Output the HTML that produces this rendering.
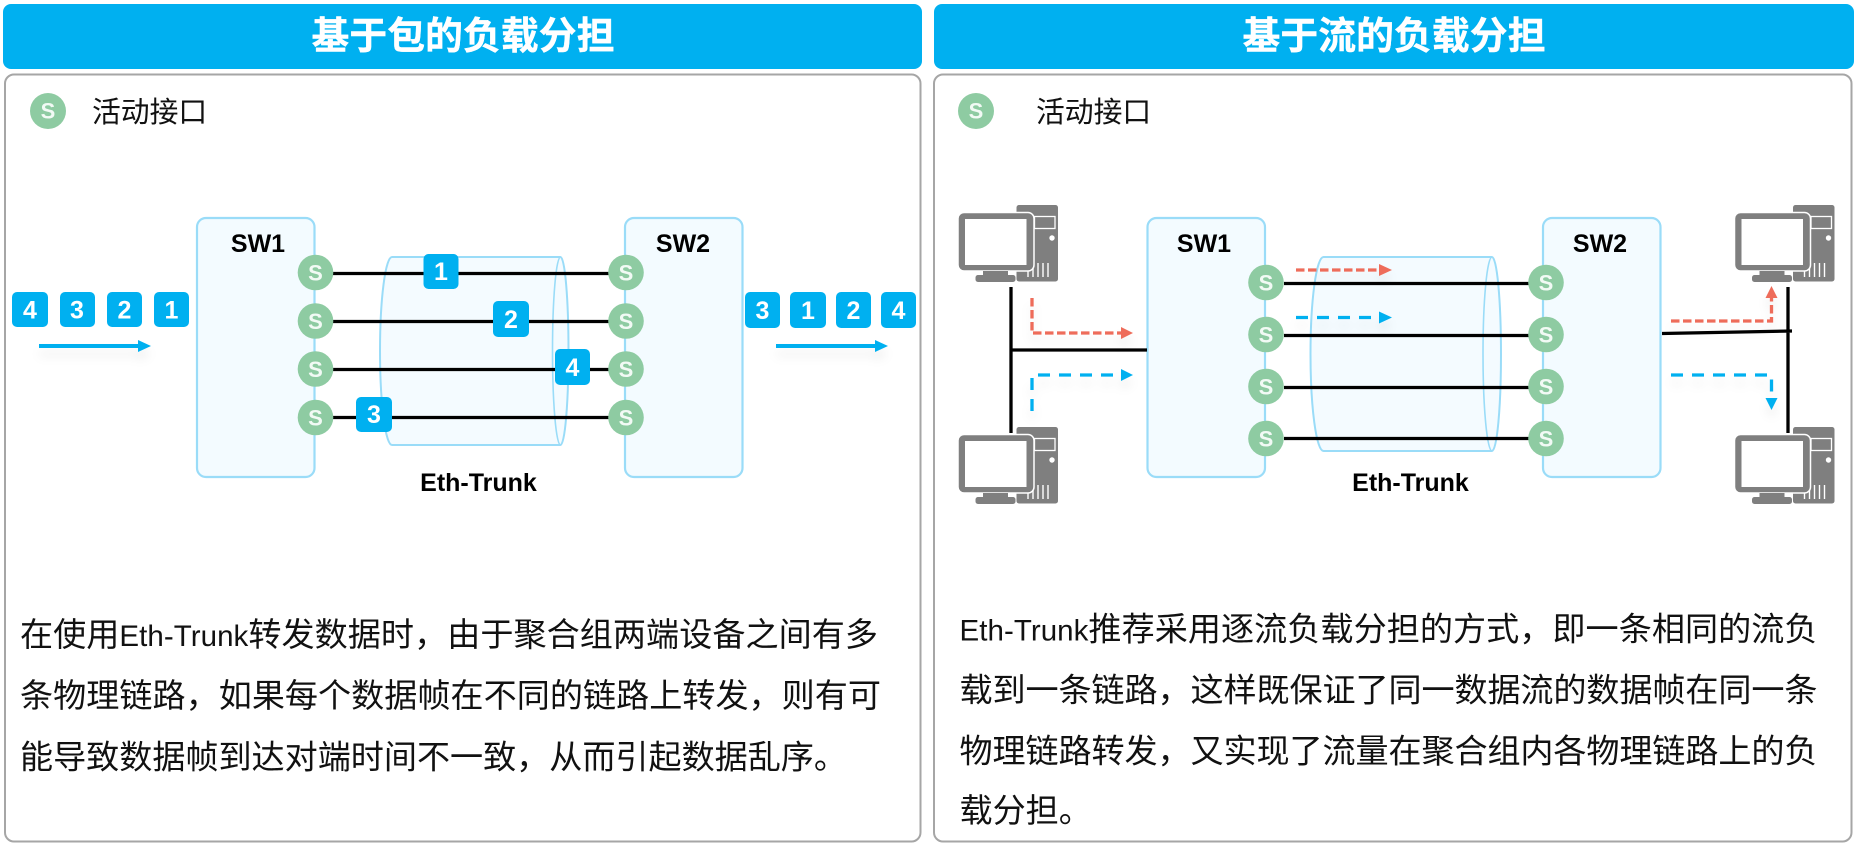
<!DOCTYPE html>
<html><head><meta charset="utf-8">
<style>
html,body{margin:0;padding:0;background:#fff;width:1855px;height:847px;overflow:hidden}
svg{display:block}
text{font-family:"Liberation Sans","Noto Sans CJK SC",sans-serif}
.t{font-size:37.8px;font-weight:700;fill:#fff;text-anchor:middle}
.lg{font-size:28.8px;fill:#111}
.b{font-size:33.1px;fill:#111}
.b tspan{font-size:29.5px}
.sw{font-size:25px;font-weight:700;fill:#000;text-anchor:middle}
.s{font-size:22px;font-weight:700;fill:#f2faf5;text-anchor:middle}
.n{font-size:25px;font-weight:700;fill:#fff;text-anchor:middle}
.box{fill:#f3fbff;stroke:#9adcf8;stroke-width:2.2}
.cyl{fill:#f3fbff;fill-opacity:.9;stroke:#9adcf8;stroke-width:2}
.e{fill:none;stroke:#9adcf8;stroke-width:1.6}
.k{stroke:#000;stroke-width:3.3;fill:none}
.c{fill:#8ecba2}
.p{fill:#00b0f0}
.rd{fill:none;stroke:#ee6c5a;stroke-width:3.3;stroke-dasharray:8.500 3.500}
.bd{fill:none;stroke:#00b0f0;stroke-width:3.3;stroke-dasharray:12 9}
.sh{filter:drop-shadow(0 8px 5px rgba(0,0,0,.07))}
</style></head><body>
<svg width="1855" height="847" viewBox="0 0 1855 847" xmlns="http://www.w3.org/2000/svg">
<defs>
<g id="pc">
 <rect x="1016.500" y="205" width="41.500" height="76.500" rx="2.500" fill="#7f7f7f"/>
 <rect x="1034.500" y="216.500" width="20.500" height="12" fill="none" stroke="#fff" stroke-width="1.300"/>
 <circle cx="1052" cy="238" r="2.700" fill="#fff"/>
 <path d="M1028 263v14M1033 263v14M1038 263v14M1043 263v14M1048 263v14" stroke="#fff" stroke-width="1.400"/>
 <rect x="958" y="212.500" width="76" height="58.500" rx="6" fill="#7f7f7f" stroke="#fff" stroke-width="1.500"/>
 <rect x="965" y="219" width="61.500" height="46" fill="#fff"/>
 <rect x="983" y="271" width="25" height="4.500" fill="#7f7f7f"/>
 <rect x="975.500" y="275" width="40" height="7" rx="2.500" fill="#7f7f7f"/>
</g>
</defs>

<rect x="3" y="4" width="919" height="65" rx="8" class="p"/>
<rect x="934" y="4" width="920" height="65" rx="8" class="p"/>
<rect x="5" y="74.500" width="915.500" height="767" rx="9" fill="#fff" stroke="#a6a6a6" stroke-width="2"/>
<rect x="934" y="74.500" width="917.500" height="767" rx="9" fill="#fff" stroke="#a6a6a6" stroke-width="2"/>
<text class="t" x="463" y="49" textLength="303" stroke="#fff" stroke-width=".4">基于包的负载分担</text>
<text class="t" x="1394" y="49" textLength="303" stroke="#fff" stroke-width=".4">基于流的负载分担</text>

<!-- legends -->
<circle class="c" cx="48" cy="111" r="18"/><text class="s" x="48" y="118.500">S</text>
<text class="lg" x="92" y="122">活动接口</text>
<circle class="c" cx="976" cy="111" r="18"/><text class="s" x="976" y="118.500">S</text>
<text class="lg" x="1036" y="122">活动接口</text>

<!-- LEFT DIAGRAM -->
<rect class="box" x="197" y="218" width="117.500" height="259" rx="9"/>
<rect class="box" x="625" y="218" width="117.500" height="259" rx="9"/>
<text class="sw" x="258" y="252">SW1</text>
<text class="sw" x="683" y="252">SW2</text>
<path class="cyl" d="M392 257H560.500A8 94 0 0 1 560.500 445H392A12 94 0 0 1 392 257Z"/>
<path class="e" d="M560.500 257A8 94 0 0 0 560.500 445"/>
<path class="k" d="M332 273.500H612M332 321.500H612M332 369.500H612M332 417.500H612"/>
<g class="c">
<circle cx="315.500" cy="272.500" r="17.800"/><circle cx="315.500" cy="321" r="17.800"/><circle cx="315.500" cy="369" r="17.800"/><circle cx="315.500" cy="417.500" r="17.800"/>
<circle cx="626" cy="272.500" r="17.800"/><circle cx="626" cy="321" r="17.800"/><circle cx="626" cy="369" r="17.800"/><circle cx="626" cy="417.500" r="17.800"/>
</g>
<text class="s" x="315.500" y="280.500">S</text><text class="s" x="315.500" y="329">S</text><text class="s" x="315.500" y="377">S</text><text class="s" x="315.500" y="425.500">S</text>
<text class="s" x="626" y="280.500">S</text><text class="s" x="626" y="329">S</text><text class="s" x="626" y="377">S</text><text class="s" x="626" y="425.500">S</text>

<rect class="p" x="423.500" y="254" width="35" height="35" rx="5"/><text class="n" x="441" y="280">1</text>
<rect class="p" x="493" y="301" width="36" height="36" rx="5"/><text class="n" x="511" y="328">2</text>
<rect class="p" x="555" y="349" width="35" height="36" rx="5"/><text class="n" x="572.500" y="376">4</text>
<rect class="p" x="356" y="397" width="36" height="35" rx="5"/><text class="n" x="374" y="423">3</text>

<rect class="p" x="12" y="292" width="36" height="35" rx="5"/><text class="n" x="30" y="318.500">4</text>
<rect class="p" x="60" y="292" width="35" height="35" rx="5"/><text class="n" x="77" y="318.500">3</text>
<rect class="p" x="107" y="292" width="35" height="35" rx="5"/><text class="n" x="124.500" y="318.500">2</text>
<rect class="p" x="154" y="292" width="35" height="35" rx="5"/><text class="n" x="171.500" y="318.500">1</text>

<rect class="p" x="745" y="292" width="35" height="36" rx="5"/><text class="n" x="762.500" y="319">3</text>
<rect class="p" x="790" y="292" width="36" height="36" rx="5"/><text class="n" x="808" y="319">1</text>
<rect class="p" x="836" y="292" width="35" height="36" rx="5"/><text class="n" x="853.500" y="319">2</text>
<rect class="p" x="881" y="292" width="35" height="36" rx="5"/><text class="n" x="898.500" y="319">4</text>

<g class="sh"><path d="M39 346H140" stroke="#00b0f0" stroke-width="4"/><polygon class="p" points="138,340 151,346 138,352"/></g>
<g class="sh"><path d="M776 346H877" stroke="#00b0f0" stroke-width="4"/><polygon class="p" points="875,340 888,346 875,352"/></g>
<text class="sw" x="478.500" y="491">Eth-Trunk</text>

<!-- RIGHT DIAGRAM -->
<rect class="box" x="1147.500" y="218" width="117.500" height="259" rx="9"/>
<rect class="box" x="1543" y="218" width="117.500" height="259" rx="9"/>
<text class="sw" x="1204" y="252">SW1</text>
<text class="sw" x="1600" y="252">SW2</text>
<path class="cyl" d="M1323.500 257H1492A9 97 0 0 1 1492 451H1323.500A13 97 0 0 1 1323.500 257Z"/>
<path class="e" d="M1492 257A9 97 0 0 0 1492 451"/>

<use href="#pc"/>
<use href="#pc" y="222"/>
<use href="#pc" x="776.500"/>
<use href="#pc" x="776.500" y="222"/>

<path class="k" d="M1011 287V433M1011 350H1147"/>
<path class="k" d="M1788 287V433M1662 333.500L1792 331"/>
<path class="k" d="M1284 283.500H1530M1284 335.500H1530M1284 387.500H1530M1284 438.500H1530"/>
<g class="c">
<circle cx="1266" cy="282.500" r="17.800"/><circle cx="1266" cy="334.500" r="17.800"/><circle cx="1266" cy="386.500" r="17.800"/><circle cx="1266" cy="438.500" r="17.800"/>
<circle cx="1546" cy="282.500" r="17.800"/><circle cx="1546" cy="334.500" r="17.800"/><circle cx="1546" cy="386.500" r="17.800"/><circle cx="1546" cy="438.500" r="17.800"/>
</g>
<text class="s" x="1266" y="290.500">S</text><text class="s" x="1266" y="342.500">S</text><text class="s" x="1266" y="394.500">S</text><text class="s" x="1266" y="446.500">S</text>
<text class="s" x="1546" y="290.500">S</text><text class="s" x="1546" y="342.500">S</text><text class="s" x="1546" y="394.500">S</text><text class="s" x="1546" y="446.500">S</text>

<!-- dashed flows -->
<g class="sh"><path class="rd" d="M1032 298V333H1123"/><polygon fill="#ee6c5a" points="1121,327 1133,333 1121,339"/></g>
<g class="sh"><path class="bd" d="M1032 411V375H1123"/><polygon class="p" points="1121,369 1133,375 1121,381"/></g>
<g class="sh"><path class="rd" d="M1296 270H1380"/><polygon fill="#ee6c5a" points="1379,264 1392,270 1379,276"/></g>
<g class="sh"><path class="bd" d="M1296 317.500H1380"/><polygon class="p" points="1379,311.500 1392,317.500 1379,323.500"/></g>
<g class="sh"><path class="rd" d="M1671 321H1771.500V297"/><polygon fill="#ee6c5a" points="1765.500,298 1771.500,286 1777.500,298"/></g>
<g class="sh"><path class="bd" d="M1671 375H1771.500V399"/><polygon class="p" points="1765.500,398 1771.500,410 1777.500,398"/></g>
<text class="sw" x="1410.500" y="491">Eth-Trunk</text>

<!-- body text -->
<text class="b" x="20" y="646" textLength="858">在使用<tspan>Eth-Trunk</tspan>转发数据时，由于聚合组两端设备之间有多</text>
<text class="b" x="20" y="707" textLength="861">条物理链路，如果每个数据帧在不同的链路上转发，则有可</text>
<text class="b" x="20" y="768.500">能导致数据帧到达对端时间不一致，从而引起数据乱序。</text>

<text class="b" x="959.500" y="640.500" textLength="858"><tspan>Eth-Trunk</tspan>推荐采用逐流负载分担的方式，即一条相同的流负</text>
<text class="b" x="959.500" y="701.500" textLength="858">载到一条链路，这样既保证了同一数据流的数据帧在同一条</text>
<text class="b" x="959.500" y="762.500" textLength="858">物理链路转发，又实现了流量在聚合组内各物理链路上的负</text>
<text class="b" x="959.500" y="822">载分担。</text>
</svg>
</body></html>
